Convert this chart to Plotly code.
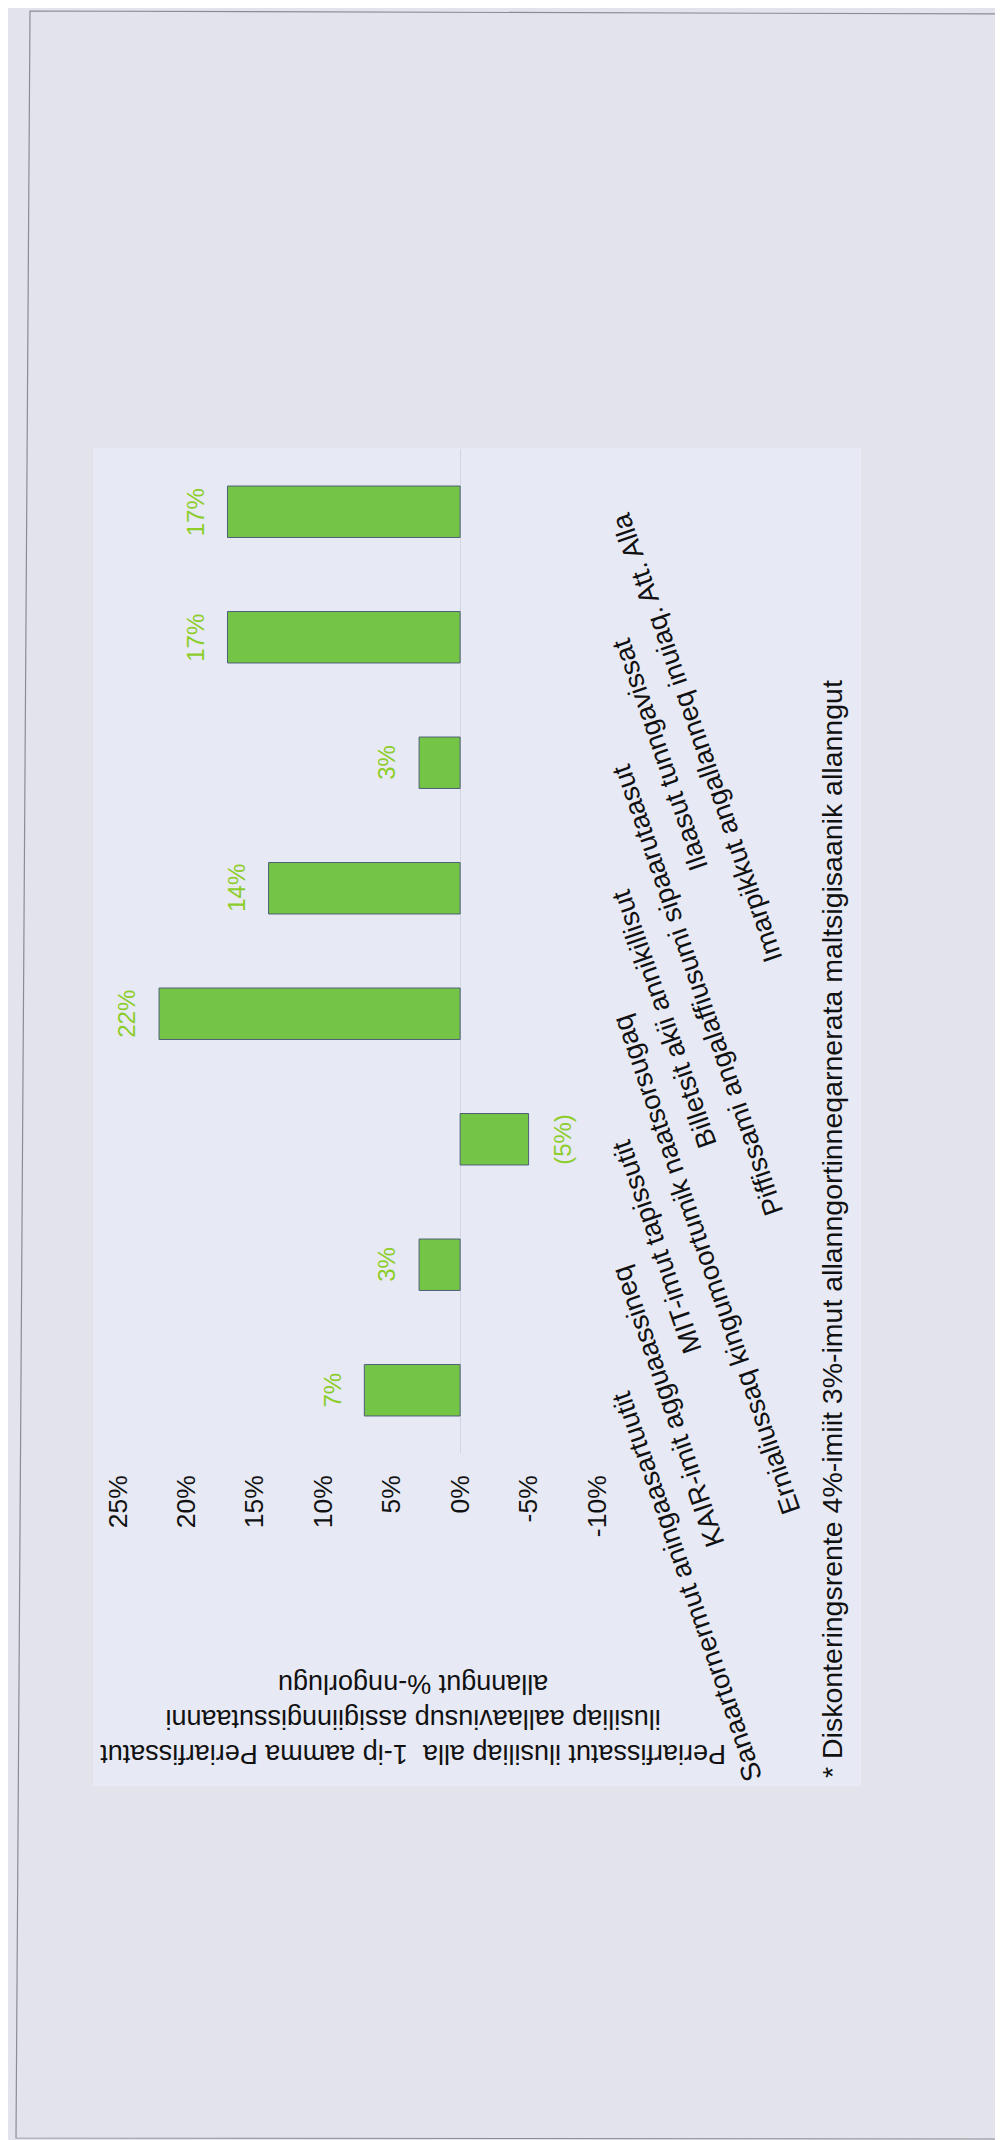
import plotly.graph_objects as go

# categories listed bottom -> top as they appear in the (rotated) scan
categories = [
    "Sanaartornermut aningaasartuutit",
    "KAIR-imit agguaassineq",
    "MIT-imut tapissutit",
    "Ernialiussaq kingumoortumik naatsorsugaq",
    "Billetsit akii annikillisut",
    "Piffissami angalaffiusumi sipaarutaasut",
    "Ilaasut tunngavissat",
    "Imarpikkut angallanneq inuiaq. Att. Alla",
]
values = [7, 3, -5, 22, 14, 3, 17, 17]

tick_vals = [25, 20, 15, 10, 5, 0, -5, -10]
tick_text = ["25%", "20%", "15%", "10%", "5%", "0%", "-5%", "-10%"]

axis_title = ("Periarfissatut ilusiliap alla  1-ip aamma Periarfissatut<br>"
              "ilusiliap aallaaviusup assigiinngissutaanni<br>"
              "allanngut %-nngorlugu")
footnote = ("* Diskonteringsrente 4%-imiit 3%-imut allanngortinneqarnerata "
            "maltsigisaanik allanngut")

W, H = 1003, 2140
L, R, T, B = 110, 589, 441, 1445          # plot area in pixels
FONT = "Arial, Liberation Sans, sans-serif"
BAR = "#74c445"
LABEL_GREEN = "#8ccd2a"


def px(x):
    return (x - L) / (R - L)


def py(y):
    return (B - y) / (B - T)


fig = go.Figure()
fig.add_trace(go.Bar(
    x=values, y=categories, orientation="h",
    width=0.41,
    marker=dict(color=BAR, line=dict(color="#4f5f7a", width=1)),
    hoverinfo="skip",
))

# page + chart panel (scan look)
fig.add_shape(type="rect", xref="paper", yref="paper",
              x0=px(85), x1=px(853), y0=py(1778), y1=py(440),
              fillcolor="#e7e9f5", line=dict(width=0), layer="below")
fig.add_shape(type="path", xref="paper", yref="paper",
              path=(f"M {px(22)} {py(3)} L {px(996)} {py(6)} "
                    f"L {px(994)} {py(2131)} L {px(8)} {py(2130)} Z"),
              line=dict(color="#8c8c94", width=1.2), layer="below")

# value labels
for cat, v in zip(categories, values):
    txt = f"{v}%" if v >= 0 else f"({-v}%)"
    fig.add_annotation(x=v, y=cat, xref="x", yref="y", text=txt,
                       showarrow=False, textangle=-90,
                       xanchor="center", yanchor="middle",
                       xshift=-32 if v >= 0 else 34,
                       font=dict(family=FONT, size=24, color=LABEL_GREEN))

# category labels (slanted)
for cat in categories:
    fig.add_annotation(x=px(595), y=cat, xref="paper", yref="y", text=cat,
                       showarrow=False, textangle=-109,
                       xanchor="left", yanchor="top", yshift=5,
                       font=dict(family=FONT, size=27.5, color="#111111"))

# value-axis title (upside down in the scan)
fig.add_annotation(x=px(405), y=py(1711), xref="paper", yref="paper",
                   text=axis_title, showarrow=False, textangle=180,
                   align="center", xanchor="center", yanchor="middle",
                   font=dict(family=FONT, size=27, color="#111111"))

# footnote
fig.add_annotation(x=px(824), y=py(1772), xref="paper", yref="paper",
                   text=footnote, showarrow=False, textangle=-90,
                   xanchor="center", yanchor="bottom",
                   font=dict(family=FONT, size=28.5, color="#111111"))

fig.update_xaxes(range=[25, -10], autorange=False,
                 tickvals=tick_vals, ticktext=tick_text,
                 tickangle=-90, ticks="", showgrid=False, showline=False,
                 zeroline=True, zerolinecolor="#d3d6e2", zerolinewidth=1,
                 ticklabelstandoff=16,
                 tickfont=dict(family=FONT, size=26.5, color="#111111"))
fig.update_yaxes(categoryorder="array", categoryarray=categories,
                 range=[-0.5, len(categories) - 0.5], autorange=False,
                 showticklabels=False, showgrid=False, showline=False,
                 ticks="", zeroline=False)

fig.update_layout(
    width=W, height=H,
    margin=dict(l=L, r=W - R, t=T, b=H - B, autoexpand=False),
    paper_bgcolor="#e2e3eb",
    plot_bgcolor="rgba(0,0,0,0)",
    showlegend=False,
    bargap=0.59,
)

fig.write_html("out.html")
